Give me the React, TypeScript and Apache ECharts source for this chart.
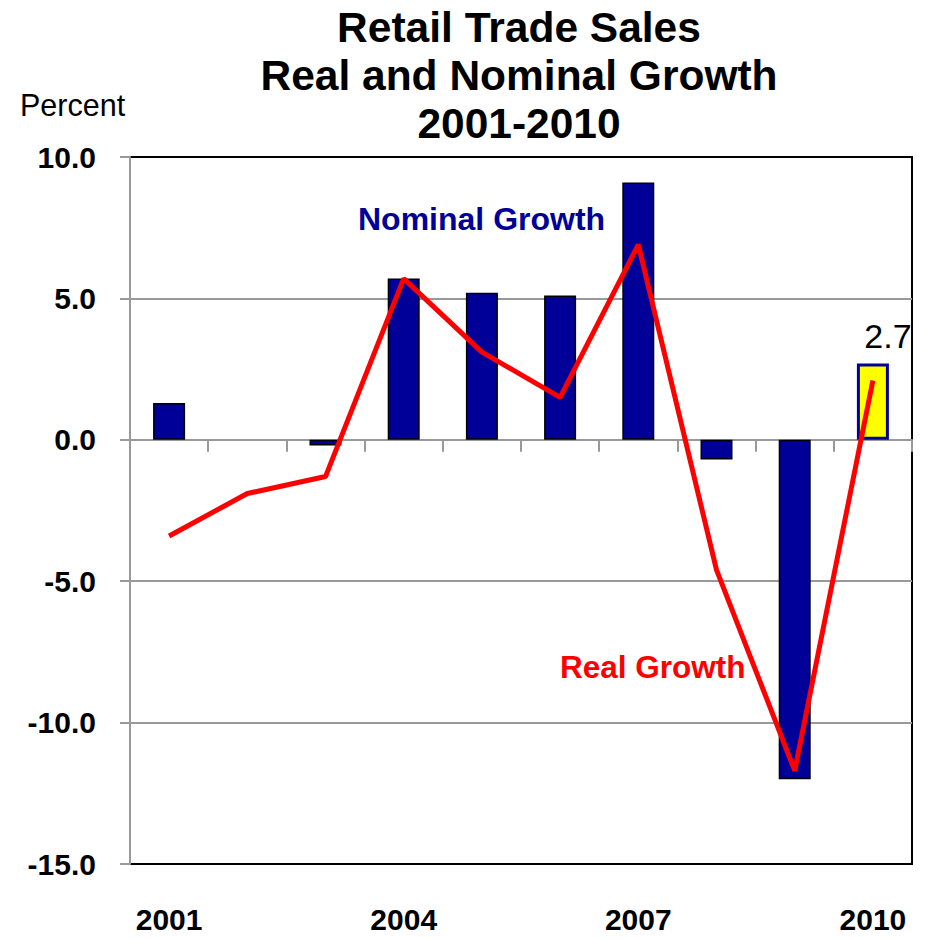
import React, { useEffect, useRef } from "react";
import * as echarts from "echarts";

const years = ["2001", "2002", "2003", "2004", "2005", "2006", "2007", "2008", "2009", "2010"];
const nominalGrowth = [1.3, 0.0, -0.2, 5.7, 5.2, 5.1, 9.1, -0.7, -12.0, 2.7];
const realGrowth = [-3.4, -1.9, -1.3, 5.7, 3.1, 1.5, 6.9, -4.6, -11.7, 2.1];
const titleLines = ["Retail Trade Sales", "Real and Nominal Growth", "2001-2010"];
const highlightIndex = 9;

const SANS = "'Liberation Sans', Arial, sans-serif";
const NAVY = "#000099";
const GRAY = "#999999";

export default function App() {
  const ref = useRef<HTMLDivElement>(null);
  useEffect(() => {
    document.body.style.margin = "0";
    if (!ref.current) return;
    const chart = echarts.init(ref.current, null, { renderer: "svg" });
    const barData = nominalGrowth.map((v, i) =>
      i === highlightIndex
        ? {
            value: v,
            itemStyle: { color: "#FFFF00", borderColor: NAVY, borderWidth: 3 },
            label: {
              show: true,
              position: "top",
              distance: 10,
              offset: [15, 0],
              formatter: (p: any) => p.value.toFixed(1),
              fontFamily: SANS,
              fontSize: 34,
              color: "#000",
            },
          }
        : v === 0
        ? { value: v, itemStyle: { borderWidth: 0 } }
        : v
    );
    chart.setOption({
      animation: false,
      backgroundColor: "#fff",
      grid: {
        left: 130,
        right: 13,
        top: 157,
        bottom: 75,
        show: true,
        borderColor: "#000",
        borderWidth: 2,
      },
      graphic: [
        ...titleLines.map((t, i) => ({
          type: "text",
          x: 519,
          y: 27 + i * 48,
          style: {
            text: t,
            font: `bold 42.5px ${SANS}`,
            fill: "#000",
            textAlign: "center",
            textVerticalAlign: "middle",
          },
        })),
        {
          type: "text",
          x: 20,
          y: 105,
          style: {
            text: "Percent",
            font: `normal 30.5px ${SANS}`,
            fill: "#000",
            textAlign: "left",
            textVerticalAlign: "middle",
          },
        },
        {
          type: "text",
          x: 358,
          y: 219,
          style: {
            text: "Nominal Growth",
            font: `bold 32px ${SANS}`,
            fill: NAVY,
            textAlign: "left",
            textVerticalAlign: "middle",
          },
        },
        {
          type: "text",
          x: 560,
          y: 667,
          style: {
            text: "Real Growth",
            font: `bold 31.5px ${SANS}`,
            fill: "#FF0000",
            textAlign: "left",
            textVerticalAlign: "middle",
          },
        },
      ],
      xAxis: [
        {
          type: "category",
          data: years,
          boundaryGap: true,
          axisLine: { show: true, onZero: true, lineStyle: { color: GRAY, width: 2 } },
          axisTick: { show: true, length: 12, lineStyle: { color: GRAY, width: 2 } },
          axisLabel: { show: false },
          splitLine: { show: false },
        },
        {
          type: "category",
          data: years,
          position: "bottom",
          boundaryGap: true,
          axisLine: { show: false, onZero: false },
          axisTick: { show: false },
          axisLabel: {
            show: true,
            interval: 2,
            margin: 40,
            fontFamily: SANS,
            fontWeight: "bold",
            fontSize: 30,
            color: "#000",
          },
          splitLine: { show: false },
        },
      ],
      yAxis: {
        type: "value",
        min: -15,
        max: 10,
        interval: 5,
        axisLine: { show: true, lineStyle: { color: GRAY, width: 2 } },
        axisTick: { show: true, length: 10, lineStyle: { color: GRAY, width: 2 } },
        axisLabel: {
          margin: 34,
          formatter: (v: number) => v.toFixed(1),
          fontFamily: SANS,
          fontWeight: "bold",
          fontSize: 30,
          color: "#000",
        },
        splitLine: {
          show: true,
          lineStyle: { color: ["#000", GRAY, GRAY, GRAY, GRAY, "#000"], width: 2 },
        },
      },
      series: [
        {
          name: "Nominal Growth",
          type: "bar",
          xAxisIndex: 0,
          data: barData,
          barWidth: 32,
          itemStyle: { color: NAVY, borderColor: "#000", borderWidth: 1.5 },
        },
        {
          name: "Real Growth",
          type: "line",
          xAxisIndex: 0,
          data: realGrowth,
          showSymbol: false,
          symbol: "none",
          z: 5,
          lineStyle: { color: "#FF0000", width: 5 },
        },
      ],
    });
    return () => chart.dispose();
  }, []);
  return <div ref={ref} style={{ width: 925, height: 939 }} />;
}
